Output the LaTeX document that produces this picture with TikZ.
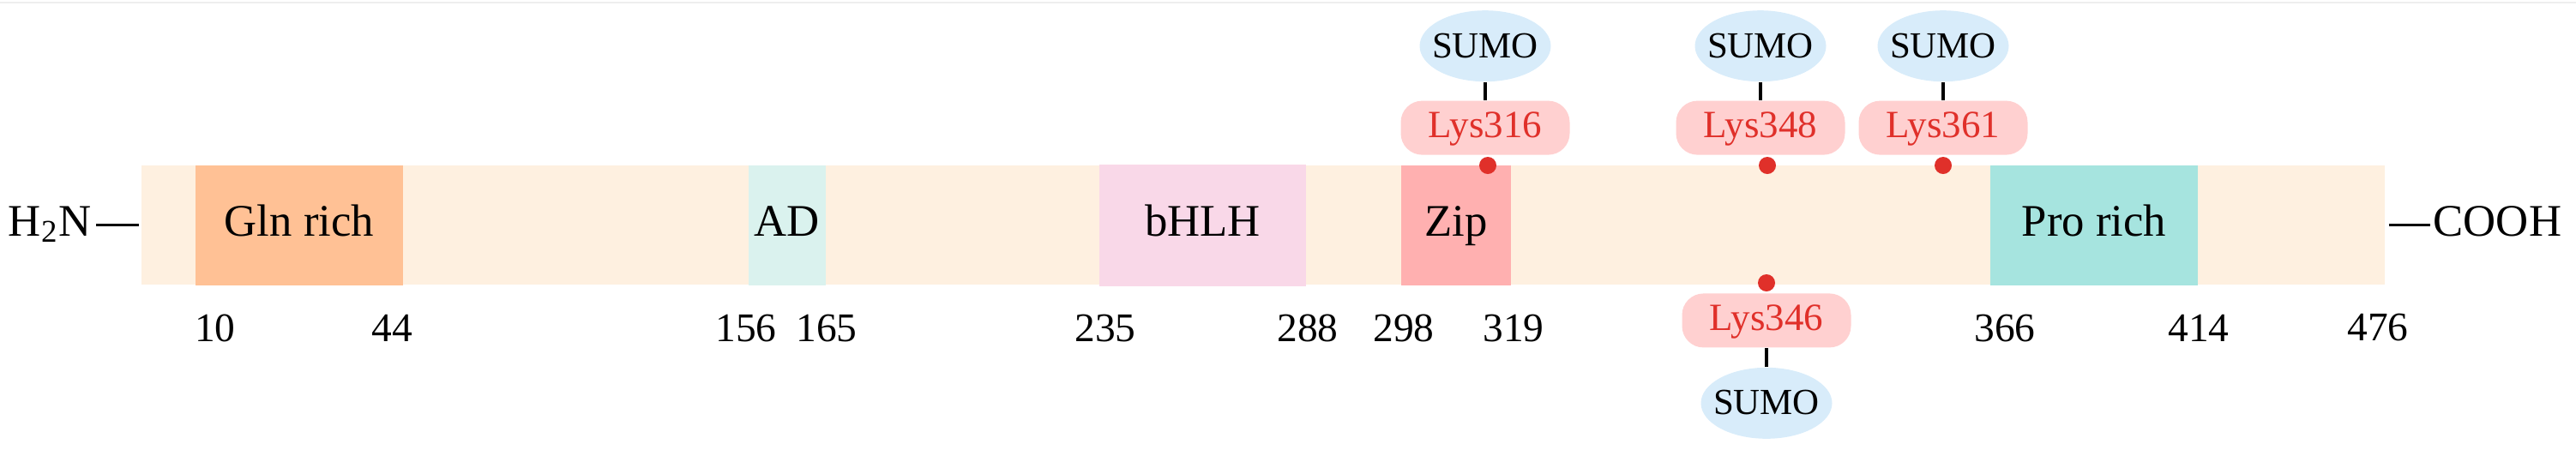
\documentclass[tikz,border=0pt]{standalone}
\usepackage{fontspec}
\setmainfont{Liberation Serif}
\usetikzlibrary{shapes.geometric,positioning}

\definecolor{barcol}{HTML}{FEF0E0}
\definecolor{glncol}{HTML}{FFC195}
\definecolor{adcol}{HTML}{DAF2EE}
\definecolor{bhlhcol}{HTML}{F9D8E8}
\definecolor{zipcol}{HTML}{FFB0B0}
\definecolor{procol}{HTML}{A6E4DF}
\definecolor{lyscol}{HTML}{FFD0D0}
\definecolor{redcol}{HTML}{E0302A}
\definecolor{sumocol}{HTML}{D8ECFA}
\definecolor{framecol}{HTML}{EEEEEE}

\newcommand\sumotxt{\makebox[0pt]{SUMO}}

\begin{document}
\begin{tikzpicture}

      % Styles for the domains, the lysine sites and the SUMO tags
      \tikzstyle{dombox}=[draw=none, minimum height=1.40cm, inner sep=0pt, text height=0.37cm, text depth=0.12cm, font=\fontsize{15}{18}\selectfont]
      \tikzstyle{lysbox}=[fill=lyscol, text=redcol, rounded corners=0.25cm, minimum width=1.97cm, minimum height=0.63cm, inner sep=0pt, text height=0.30cm, text depth=0.07cm, font=\fontsize{12.8}{15}\selectfont]
      \tikzstyle{sumotag}=[ellipse, fill=sumocol, minimum width=1.53cm, minimum height=0.83cm, inner sep=0pt, text height=0.27cm, text depth=0cm, font=\fontsize{12.2}{14}\selectfont]
      \tikzstyle{sitedot}=[circle, fill=redcol, minimum size=0.2cm, inner sep=0pt]
      \tikzstyle{resnum}=[anchor=base, inner sep=0pt, font=\fontsize{13.5}{16}\selectfont]
      \tikzstyle{endlabel}=[inner sep=0pt, font=\fontsize{15}{18}\selectfont]
      \tikzstyle{tagline}=[line width=0.9pt]

      % Define heights
      \def\ym{-2.625}   % Middle line of the protein bar
      \def\yb{-2.75}    % Baseline of the texts in the bar
      \def\yn{-3.98}    % Baseline of the residue numbers

      \useasboundingbox (0,0) rectangle (30.04,-5.24);
      \draw [line width=0.6pt, color=framecol] (0,-0.03) -- (30.04,-0.03);

      % The protein bar and its domains
      \node [dombox, fill=barcol, minimum width=26.16cm, minimum height=1.39cm] (bar) at (14.73,\ym) {};
      \node [dombox, fill=glncol, minimum width=2.42cm] (gln) at (3.49,\ym) {Gln rich};
      \node [dombox, fill=adcol, minimum width=0.90cm] (ad) at (9.18,\ym) {AD};
      \node [dombox, fill=bhlhcol, minimum width=2.41cm, minimum height=1.42cm] (bhlh) at (14.025,\ym) {bHLH};
      \node [dombox, fill=zipcol, minimum width=1.28cm] (zip) at (16.98,\ym) {Zip};
      \node [dombox, fill=procol, minimum width=2.42cm] (pro) at (24.42,\ym) {Pro rich};

      % The two ends
      \node [endlabel, anchor=base east] (nterm) at (1.07,\yb) {H\textsubscript{2}N};
      \node [endlabel, anchor=base west] (cterm) at (28.37,\yb) {COOH};
      \draw [line width=0.7pt] ([xshift=0.05cm]nterm.east |- bar.west) -- ([xshift=-0.02cm]bar.west);
      \draw [line width=0.7pt] ([xshift=0.04cm]bar.east) -- ([xshift=-0.03cm]cterm.west |- bar.east);

      % Residue numbers under the bar
      \foreach \x/\n in {2.51/10, 4.57/44, 8.70/156, 9.64/165, 12.89/235, 15.25/288, 16.37/298, 17.65/319, 23.38/366, 25.64/414}
        \node [resnum] (n\n) at (\x,\yn) {\n};
      \node [resnum] (n476) at (27.73,-3.97) {476};

      % Sumoylated lysines
      \node [sitedot] (d316) at (17.35,-1.93) {};
      \node [sitedot] (d348) at (20.61,-1.93) {};
      \node [sitedot] (d361) at (22.66,-1.93) {};
      \node [sitedot] (d346) at (20.60,-3.30) {};

      \node [lysbox, above=0.01cm of d316, xshift=-0.03cm] (k316) {Lys316};
      \node [lysbox, above=0.01cm of d348, xshift=-0.08cm] (k348) {Lys348};
      \node [lysbox, above=0.01cm of d361] (k361) {Lys361};
      \node [lysbox, below=0.01cm of d346] (k346) {Lys346};

      \node [sumotag, above=0.21cm of k316] (s316) {\sumotxt};
      \node [sumotag, above=0.21cm of k348] (s348) {\sumotxt};
      \node [sumotag, above=0.21cm of k361] (s361) {\sumotxt};
      \node [sumotag, below=0.22cm of k346] (s346) {\sumotxt};

      \draw [tagline] (s316) -- (k316);
      \draw [tagline] (s348) -- (k348);
      \draw [tagline] (s361) -- (k361);
      \draw [tagline] (s346) -- (k346);

\end{tikzpicture}
\end{document}
